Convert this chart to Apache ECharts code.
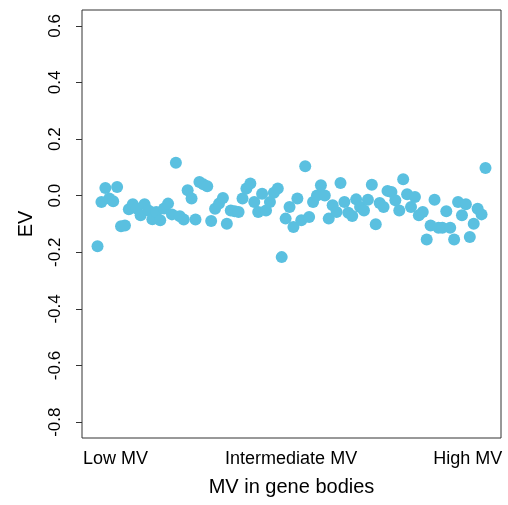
<!DOCTYPE html>
<html>
<head>
<meta charset="utf-8">
<script src="https://cdn.jsdelivr.net/npm/echarts@6/dist/echarts.min.js"></script>
<style>html,body{margin:0;padding:0;background:#fff;}#c{width:508px;height:505px;}</style>
</head>
<body>
<div id="c"></div>
<script>
// Eigenvalue (EV) per gene, ordered by MV in gene bodies (index 1..100)
const evValues = [
  -0.179, -0.022, 0.027, -0.010, -0.020, 0.031, -0.108, -0.105, -0.048, -0.030,
  -0.045, -0.069, -0.030, -0.052, -0.083, -0.058, -0.087, -0.045, -0.028, -0.066,
  0.116, -0.073, -0.084, 0.019, -0.010, -0.084, 0.048, 0.040, 0.033, -0.089,
  -0.046, -0.028, -0.008, -0.099, -0.052, -0.055, -0.058, -0.010, 0.025, 0.043,
  -0.022, -0.058, 0.007, -0.052, -0.022, 0.010, 0.025, -0.217, -0.081, -0.040,
  -0.111, -0.010, -0.087, 0.104, -0.075, -0.022, 0.001, 0.037, 0.001, -0.081,
  -0.034, -0.058, 0.045, -0.022, -0.060, -0.072, -0.013, -0.040, -0.052, -0.014,
  0.039, -0.101, -0.026, -0.040, 0.017, 0.013, -0.016, -0.052, 0.058, 0.005,
  -0.040, -0.005, -0.069, -0.058, -0.155, -0.105, -0.014, -0.113, -0.113, -0.055,
  -0.113, -0.155, -0.022, -0.069, -0.030, -0.146, -0.099, -0.046, -0.066, 0.098
];
const xTickLabels = ['Low MV', 'Intermediate MV', 'High MV'];
const xTickPositions = [5.6, 50.4, 95.5];
const yTicks = [-0.8, -0.6, -0.4, -0.2, 0.0, 0.2, 0.4, 0.6];

const points = evValues.map((v, i) => [i + 1, v]);

const chart = echarts.init(document.getElementById('c'), null, {renderer: 'canvas'});
const font = 'Liberation Sans, Arial, Helvetica, sans-serif';
chart.setOption({
  animation: false,
  backgroundColor: '#fff',
  grid: {left: 82, right: 7, top: 10, bottom: 67, show: true, borderColor: '#333', borderWidth: 1, backgroundColor: 'transparent'},
  xAxis: {
    type: 'value',
    min: -2.96, max: 103.96,
    axisLine: {show: false, onZero: false},
    axisTick: {show: false},
    splitLine: {show: false},
    axisLabel: {
      customValues: xTickPositions,
      margin: 12,
      color: '#000', fontSize: 18, fontFamily: font,
      formatter: function (v) {
        let best = 0;
        for (let k = 1; k < xTickPositions.length; k++) {
          if (Math.abs(xTickPositions[k] - v) < Math.abs(xTickPositions[best] - v)) best = k;
        }
        return xTickLabels[best];
      }
    },
    name: 'MV in gene bodies',
    nameLocation: 'middle',
    nameGap: 39,
    nameTextStyle: {color: '#000', fontSize: 20, fontFamily: font}
  },
  yAxis: {
    type: 'value',
    min: -0.856, max: 0.656,
    axisLine: {show: false, onZero: false},
    splitLine: {show: false},
    axisTick: {show: true, customValues: yTicks, length: 6, inside: false, lineStyle: {color: '#333'}},
    axisLabel: {
      customValues: yTicks,
      rotate: 90,
      margin: 18,
      color: '#000', fontSize: 17, fontFamily: font,
      formatter: function (v) { return v.toFixed(1); }
    },
    name: 'EV',
    nameLocation: 'middle',
    nameGap: 46,
    nameTextStyle: {color: '#000', fontSize: 20, fontFamily: font}
  },
  series: [{
    type: 'scatter',
    data: points,
    symbol: 'circle',
    symbolSize: 12,
    itemStyle: {color: '#5ac0e0', opacity: 1},
    emphasis: {disabled: true}
  }]
});
</script>
</body>
</html>
